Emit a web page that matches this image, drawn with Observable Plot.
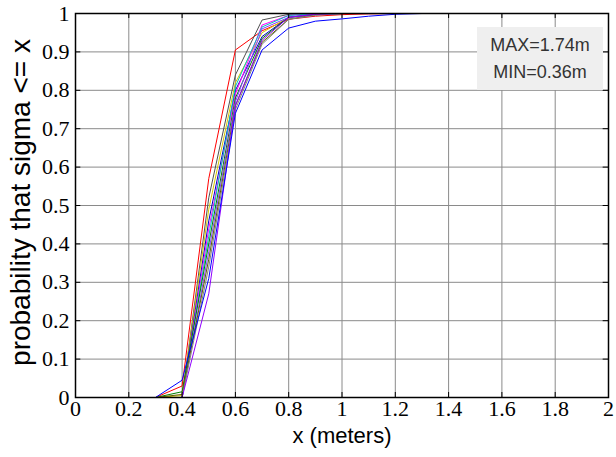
<!DOCTYPE html>
<html>
<head>
<meta charset="utf-8">
<script src="https://cdn.jsdelivr.net/npm/d3@7"></script>
<script src="https://cdn.jsdelivr.net/npm/@observablehq/plot@0.6"></script>
<style>
  html, body { margin: 0; padding: 0; background: #fff; }
  #wrap { position: relative; width: 616px; height: 457px; }
  #note { position: absolute; left: 477px; top: 27px; width: 126px; height: 63px;
          background: #efefef; color: #333; font: 18px "Liberation Sans", Arial, sans-serif;
          text-align: center; line-height: 27px; padding-top: 5px; box-sizing: border-box; }
</style>
</head>
<body>
<div id="wrap"></div>
<script>
// x sample points (meters)
const xs = [0, 0.1, 0.2, 0.3, 0.4, 0.5, 0.6, 0.7, 0.8, 0.9, 1.0, 1.1, 1.2, 1.3, 1.4, 1.5, 1.6, 1.7, 1.8, 1.9, 2.0];

// CDF curves, one per run
const sRed     = [0, 0, 0, 0, 0.030, 0.57, 0.905, 0.955, 0.985, 0.993, 0.997, 0.999, 1, 1, 1, 1, 1, 1, 1, 1, 1];
const sGray    = [0, 0, 0, 0, 0.000, 0.52, 0.840, 0.983, 0.998, 1, 1, 1, 1, 1, 1, 1, 1, 1, 1, 1, 1];
const sYellow  = [0, 0, 0, 0, 0.005, 0.49, 0.820, 0.950, 0.990, 0.997, 1, 1, 1, 1, 1, 1, 1, 1, 1, 1, 1];
const sNavy    = [0, 0, 0, 0, 0.000, 0.46, 0.800, 0.940, 0.990, 0.998, 1, 1, 1, 1, 1, 1, 1, 1, 1, 1, 1];
const sMagenta = [0, 0, 0, 0, 0.000, 0.44, 0.790, 0.970, 0.995, 1, 1, 1, 1, 1, 1, 1, 1, 1, 1, 1, 1];
const sCyan    = [0, 0, 0, 0, 0.000, 0.42, 0.810, 0.965, 0.995, 0.999, 1, 1, 1, 1, 1, 1, 1, 1, 1, 1, 1];
const sGreen   = [0, 0, 0, 0, 0.015, 0.40, 0.780, 0.935, 0.990, 0.998, 1, 1, 1, 1, 1, 1, 1, 1, 1, 1, 1];
const sViolet  = [0, 0, 0, 0, 0.000, 0.38, 0.770, 0.960, 0.990, 0.999, 1, 1, 1, 1, 1, 1, 1, 1, 1, 1, 1];
const sOlive   = [0, 0, 0, 0, 0.008, 0.36, 0.760, 0.925, 0.985, 0.997, 1, 1, 1, 1, 1, 1, 1, 1, 1, 1, 1];
const sDkGray  = [0, 0, 0, 0, 0.000, 0.34, 0.750, 0.920, 0.985, 0.995, 1, 1, 1, 1, 1, 1, 1, 1, 1, 1, 1];
const sPurple  = [0, 0, 0, 0, 0.000, 0.27, 0.760, 0.930, 0.990, 0.998, 1, 1, 1, 1, 1, 1, 1, 1, 1, 1, 1];
const sBlue    = [0, 0, 0, 0, 0.045, 0.31, 0.740, 0.905, 0.962, 0.980, 0.986, 0.993, 0.998, 1, 1, 1, 1, 1, 1, 1, 1];

const seriesNames  = ["red", "gray", "yellow", "navy", "magenta", "cyan", "green", "violet", "olive", "dkgray", "purple", "blue"];
const seriesValues = [sRed, sGray, sYellow, sNavy, sMagenta, sCyan, sGreen, sViolet, sOlive, sDkGray, sPurple, sBlue];
const seriesColors = ["#ff0000", "#505050", "#d4c800", "#0000c0", "#ff00ff", "#00c0c0", "#008000", "#8040ff", "#606000", "#808080", "#9000ff", "#0000ff"];

const xTicks = [0, 0.2, 0.4, 0.6, 0.8, 1, 1.2, 1.4, 1.6, 1.8, 2];
const yTicks = [0, 0.1, 0.2, 0.3, 0.4, 0.5, 0.6, 0.7, 0.8, 0.9, 1];
const xLabel = "x (meters)";
const yLabel = "probability that sigma <= x";
const noteLines = ["MAX=1.74m", "MIN=0.36m"];

const rows = [];
seriesNames.forEach((name, i) => {
  seriesValues[i].forEach((v, j) => rows.push({run: name, x: xs[j], p: v}));
});

const fmt = d => String(+(+d).toFixed(1));

const chart = Plot.plot({
  width: 616,
  height: 457,
  marginLeft: 75,
  marginRight: 8,
  marginTop: 13,
  marginBottom: 60,
  style: {background: "#fff", fontFamily: "'Liberation Serif', 'Times New Roman', serif"},
  x: {domain: [0, 2]},
  y: {domain: [0, 1]},
  color: {domain: seriesNames, range: seriesColors},
  marks: [
    Plot.gridX(xTicks, {stroke: "#8a8a8a", strokeOpacity: 1, strokeWidth: 1}),
    Plot.gridY(yTicks, {stroke: "#8a8a8a", strokeOpacity: 1, strokeWidth: 1}),
    Plot.line(rows, {x: "x", y: "p", z: "run", stroke: "run", strokeWidth: 1}),
    // inward tick marks on all four sides
    Plot.ruleX(xTicks, {x: d => d, y1: 0, y2: 0.013, stroke: "#000"}),
    Plot.ruleX(xTicks, {x: d => d, y1: 0.987, y2: 1, stroke: "#000"}),
    Plot.ruleY(yTicks, {y: d => d, x1: 0, x2: 0.02, stroke: "#000"}),
    Plot.ruleY(yTicks, {y: d => d, x1: 1.98, x2: 2, stroke: "#000"}),
    Plot.frame({stroke: "#000", strokeWidth: 1.5}),
    Plot.axisX(xTicks, {tickSize: 0, tickPadding: 3, tickFormat: fmt, label: null, fontSize: 22, fill: "#000"}),
    Plot.axisY(yTicks, {tickSize: 0, tickPadding: 6, tickFormat: fmt, label: null, fontSize: 22, fill: "#000"}),
    Plot.text([xLabel], {frameAnchor: "bottom", dy: 45, text: d => d, fontSize: 22, fontFamily: "'Liberation Sans', Arial, sans-serif", fill: "#000"}),
    Plot.text([yLabel], {frameAnchor: "left", textAnchor: "middle", dx: -54, dy: -3, rotate: -90, text: d => d, fontSize: 28, fontFamily: "'Liberation Sans', Arial, sans-serif", fill: "#000"})
  ]
});

const wrap = document.getElementById("wrap");
wrap.appendChild(chart);
const note = document.createElement("div");
note.id = "note";
note.innerHTML = noteLines.join("<br>");
wrap.appendChild(note);
</script>
</body>
</html>
